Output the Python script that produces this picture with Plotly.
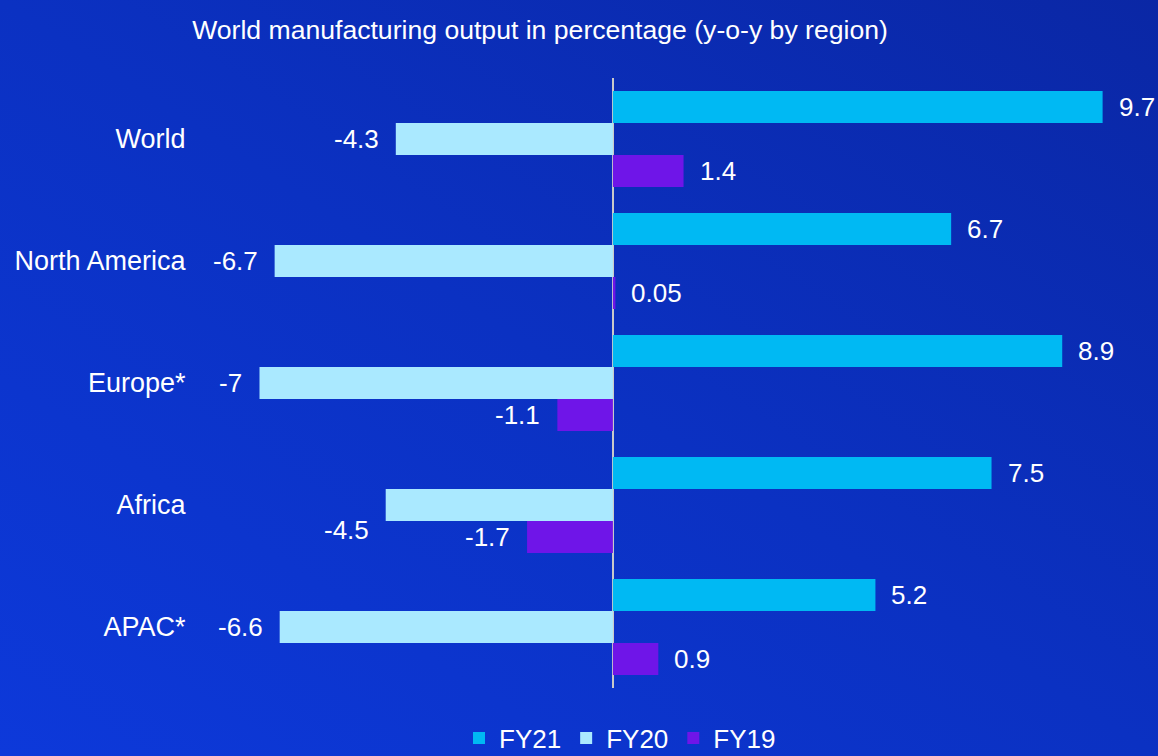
import base64
import plotly.graph_objects as go

# ---- data ----
regions = ["World", "North America", "Europe*", "Africa", "APAC*"]
series_names = ["FY21", "FY20", "FY19"]
fy21 = [9.7, 6.7, 8.9, 7.5, 5.2]
fy20 = [-4.3, -6.7, -7, -4.5, -6.6]
fy19 = [1.4, 0.05, -1.1, -1.7, 0.9]
title_text = "World manufacturing output in percentage (y-o-y by region)"

# ---- styles ----
colors = ["#00B9F3", "#AAE9FF", "#6F15E8"]
FONT = "Liberation Sans, Arial, sans-serif"
FS = 27
FS_VAL = 26
BARGAP = 0.213
# label displacement (series index, region index) -> extra yshift px
label_yshift = {(1, 3): -25}

series = [fy21, fy20, fy19]

fig = go.Figure()
for name, vals, col in zip(series_names, series, colors):
    fig.add_trace(go.Bar(
        y=regions, x=vals, name=name, orientation="h",
        marker=dict(color=col, line=dict(width=0)),
        hoverinfo="x+name",
    ))

# value labels
w = (1 - BARGAP) / len(series)
annotations = []
for k, vals in enumerate(series):
    for i, v in enumerate(vals):
        annotations.append(dict(
            x=v, y=i + (k - 1) * w, xref="x", yref="y",
            text=f"{v:g}", showarrow=False,
            xanchor="left" if v >= 0 else "right",
            xshift=14 if v >= 0 else -15,
            yshift=label_yshift.get((k, i), 0),
            font=dict(family=FONT, size=FS_VAL, color="white"),
        ))

# gradient background as inline SVG
svg = (
    '<svg xmlns="http://www.w3.org/2000/svg" width="1158" height="756" '
    'preserveAspectRatio="none" viewBox="0 0 1158 756">'
    '<defs><linearGradient id="g" x1="0" y1="1" x2="1" y2="0">'
    '<stop offset="0" stop-color="#0D39DA"/>'
    '<stop offset="0.5" stop-color="#0B31C2"/>'
    '<stop offset="1" stop-color="#0A27A5"/>'
    '</linearGradient></defs>'
    '<rect width="1158" height="756" fill="url(#g)"/></svg>'
)
src = "data:image/svg+xml;base64," + base64.b64encode(svg.encode()).decode()

fig.update_layout(
    width=1158, height=756,
    paper_bgcolor="#0B31C2", plot_bgcolor="rgba(0,0,0,0)",
    font=dict(family=FONT, size=FS, color="white"),
    margin=dict(l=209, r=15, t=78, b=68, autoexpand=False),
    barmode="group", bargap=BARGAP, bargroupgap=0,
    title=dict(text=title_text, x=540 / 1158, xanchor="center", xref="container",
               y=1 - 30 / 756, yanchor="middle",
               font=dict(family=FONT, size=26.6, color="white")),
    legend=dict(orientation="h", x=620 / 1158, xref="container", xanchor="center",
                y=-(738 - 688) / 610, yanchor="middle",
                font=dict(family=FONT, size=FS_VAL, color="white"),
                bgcolor="rgba(0,0,0,0)", itemwidth=30, traceorder="normal"),
    annotations=annotations,
    images=[dict(source=src, xref="paper", yref="paper", x=-209 / 934, y=1 + 78 / 610,
                 sizex=1158 / 934, sizey=756 / 610, xanchor="left", yanchor="top",
                 sizing="stretch", layer="below")],
    showlegend=True,
)
fig.update_xaxes(range=[-8, 10.5], showgrid=False, showticklabels=False, ticks="",
                 zeroline=True, zerolinecolor="#C9C9C9", zerolinewidth=2, fixedrange=True)
fig.update_yaxes(range=[4.5, -0.5], showgrid=False, ticks="outside", ticklen=17,
                 tickcolor="rgba(0,0,0,0)", showline=False, zeroline=False,
                 tickfont=dict(family=FONT, size=FS, color="white"), fixedrange=True)

fig.write_html(
    "out.html",
    config={"displayModeBar": False},
    post_script="document.body.style.margin='0';document.body.style.overflow='hidden';",
)
